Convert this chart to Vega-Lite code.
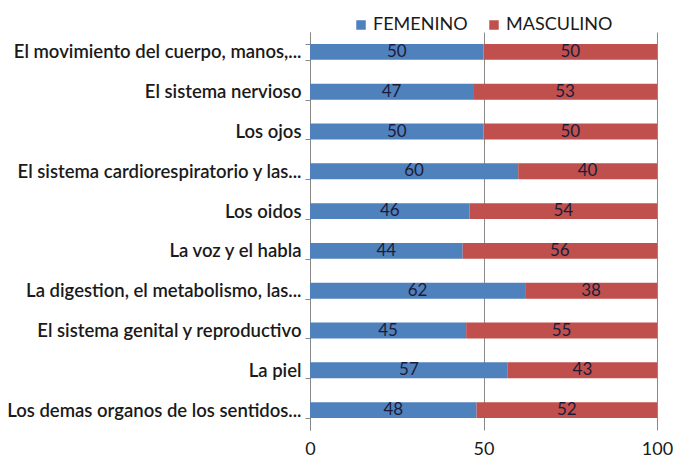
{
  "$schema": "https://vega.github.io/schema/vega-lite/v6.json",
  "width": 347,
  "height": 398,
  "autosize": {"type": "none"},
  "padding": {"left": 310, "top": 32, "right": 16, "bottom": 36},
  "background": "white",
  "config": {
    "view": {"stroke": null},
    "font": "Lato",
    "axis": {"labelFont": "Lato", "labelColor": "#1a1a1a"},
    "legend": {"labelFont": "Lato"}
  },
  "data": {
    "values": [
      {"categoria": "El movimiento del cuerpo, manos,...", "sexo": "FEMENINO", "valor": 50},
      {"categoria": "El movimiento del cuerpo, manos,...", "sexo": "MASCULINO", "valor": 50},
      {"categoria": "El sistema nervioso", "sexo": "FEMENINO", "valor": 47},
      {"categoria": "El sistema nervioso", "sexo": "MASCULINO", "valor": 53},
      {"categoria": "Los ojos", "sexo": "FEMENINO", "valor": 50},
      {"categoria": "Los ojos", "sexo": "MASCULINO", "valor": 50},
      {"categoria": "El sistema cardiorespiratorio y las...", "sexo": "FEMENINO", "valor": 60},
      {"categoria": "El sistema cardiorespiratorio y las...", "sexo": "MASCULINO", "valor": 40},
      {"categoria": "Los oidos", "sexo": "FEMENINO", "valor": 46},
      {"categoria": "Los oidos", "sexo": "MASCULINO", "valor": 54},
      {"categoria": "La voz y el habla", "sexo": "FEMENINO", "valor": 44},
      {"categoria": "La voz y el habla", "sexo": "MASCULINO", "valor": 56},
      {"categoria": "La digestion, el metabolismo, las...", "sexo": "FEMENINO", "valor": 62},
      {"categoria": "La digestion, el metabolismo, las...", "sexo": "MASCULINO", "valor": 38},
      {"categoria": "El sistema genital y reproductivo", "sexo": "FEMENINO", "valor": 45},
      {"categoria": "El sistema genital y reproductivo", "sexo": "MASCULINO", "valor": 55},
      {"categoria": "La piel", "sexo": "FEMENINO", "valor": 57},
      {"categoria": "La piel", "sexo": "MASCULINO", "valor": 43},
      {"categoria": "Los demas organos de los sentidos...", "sexo": "FEMENINO", "valor": 48},
      {"categoria": "Los demas organos de los sentidos...", "sexo": "MASCULINO", "valor": 52}
    ]
  },
  "encoding": {
    "y": {
      "field": "categoria",
      "type": "nominal",
      "sort": null,
      "scale": {"paddingInner": 0.6, "paddingOuter": 0.3},
      "axis": {
        "title": null,
        "labelFontSize": 18.5,
        "labelFontWeight": 600,
        "labelPadding": 4,
        "labelLimit": 320,
        "domainColor": "#888888",
        "tickColor": "#888888",
        "tickBand": "extent",
        "tickSize": 5,
        "grid": false
      }
    },
    "x": {
      "field": "valor",
      "type": "quantitative",
      "stack": "zero",
      "scale": {"domain": [0, 100], "nice": false},
      "axis": {
        "title": null,
        "values": [0, 50, 100],
        "grid": true,
        "gridColor": "#8a8a8a",
        "domain": false,
        "ticks": false,
        "labelFontSize": 18,
        "labelPadding": 10,
        "labelFlush": false
      }
    },
    "order": {"field": "sexo", "sort": "ascending"}
  },
  "layer": [
    {
      "mark": {"type": "bar"},
      "encoding": {
        "color": {
          "field": "sexo",
          "type": "nominal",
          "scale": {"domain": ["FEMENINO", "MASCULINO"], "range": ["#4F81BD", "#C0504D"]},
          "legend": {
            "title": null,
            "orient": "none",
            "direction": "horizontal",
            "legendX": 42,
            "legendY": -16,
            "symbolType": "square",
            "symbolSize": 90,
            "symbolStrokeWidth": 0,
            "symbolOpacity": 1,
            "labelFontSize": 18,
            "labelColor": "#1a1a1a",
            "labelOffset": 3,
            "columnPadding": 17
          }
        }
      }
    },
    {
      "mark": {"type": "text", "fontSize": 17, "color": "#1c1c3a", "baseline": "middle"},
      "encoding": {
        "x": {"field": "valor", "type": "quantitative", "stack": "zero", "bandPosition": 0.5},
        "detail": {"field": "sexo"},
        "text": {"field": "valor", "type": "quantitative"}
      }
    }
  ]
}
